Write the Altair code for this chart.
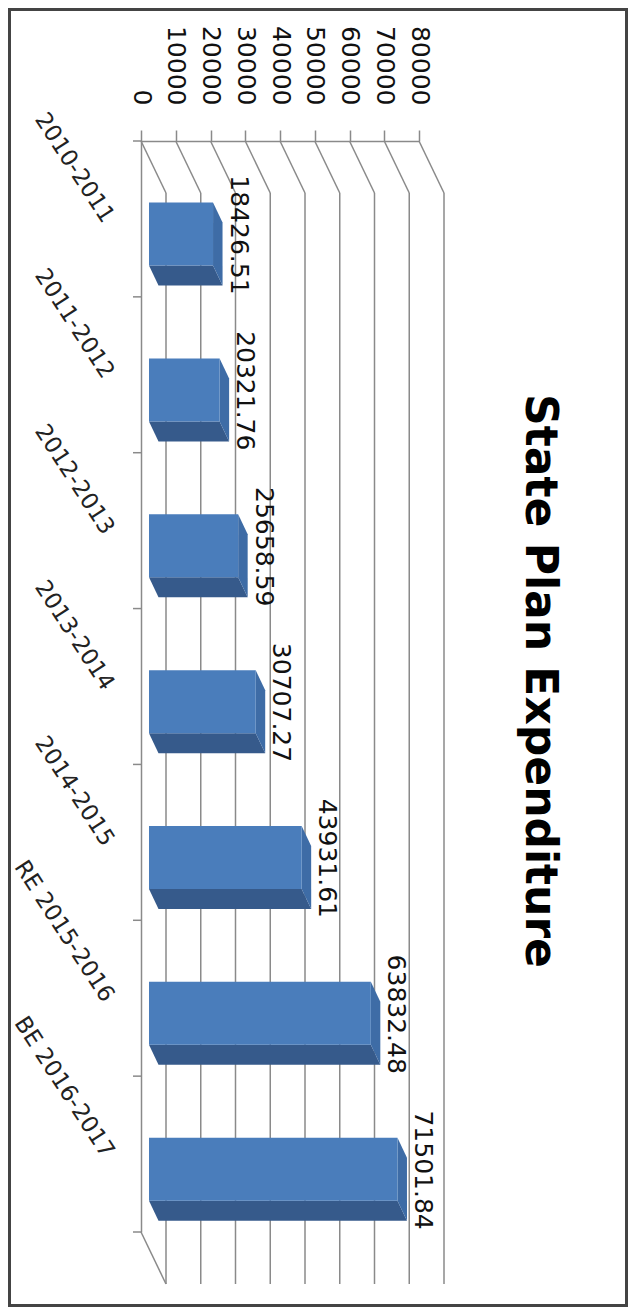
import json
import altair as alt
import pandas as pd

title_text = "State Plan Expenditure"
categories = ["2010-2011", "2011-2012", "2012-2013", "2013-2014", "2014-2015", "RE 2015-2016", "BE 2016-2017"]
values = [18426.51, 20321.76, 25658.59, 30707.27, 43931.61, 63832.48, 71501.84]
value_ticks = [0, 10000, 20000, 30000, 40000, 50000, 60000, 70000, 80000]
n = len(categories)

# pixel geometry of the oblique projection
W, H = 278, 1091
px_x = 80000 / W        # value units per px
px_y = n / H            # band units per px
wall_dx, wall_dy = 25 * px_x, 52 * px_y
bar_x0, bar_dx = 8 * px_x, 9.5 * px_x
bar_dy = 20 * px_y
bar_gap_start = 0.395   # front face offset from band start
bar_thick = 63 * px_y

xs = alt.Scale(domain=[0, 80000], nice=False, zero=False)
ys = alt.Scale(domain=[0, n], nice=False, zero=False, reverse=True)
GREY = "#8a8a8a"
INK = "#111111"
FONT = "DejaVu Sans"

x_axis = alt.Axis(orient="top", values=value_ticks, grid=False, title=None, format="d",
                  domainColor=GREY, domainWidth=1.5, tickColor=GREY, tickWidth=1.5, tickSize=11,
                  labelAngle=90, labelAlign="right", labelBaseline="middle", labelPadding=25,
                  labelFont=FONT, labelFontSize=25, labelColor=INK, labelOverlap=False,
                  labelFlush=False, labelBound=False)
label_expr = "%s[round(datum.value - 0.5)]" % json.dumps(categories)
y_axis = alt.Axis(orient="left", values=[i + 0.5 for i in range(n)], grid=False, title=None,
                  domainColor=GREY, domainWidth=1.5, ticks=False, labelExpr=label_expr,
                  labelAngle=57, labelAlign="right", labelBaseline="middle", labelPadding=33,
                  labelOffset=1,
                  labelFont=FONT, labelFontSize=23, labelColor="#222222", labelOverlap=False,
                  labelLimit=400, labelFlush=False, labelBound=False)


def X(f):
    return alt.X(f, type="quantitative", scale=xs, axis=x_axis)


def Y(f):
    return alt.Y(f, type="quantitative", scale=ys, axis=y_axis)


# frame
frame = alt.Chart(pd.DataFrame({"a": [0]})).mark_rect(
    filled=False, stroke="#444444", strokeWidth=3
).encode(x=alt.value(-131.5), x2=alt.value(485.5), y=alt.value(-131.5), y2=alt.value(1164.5))

# back wall and slanted grid
wall = pd.DataFrame({"v": value_ticks})
wall["vb"] = wall.v + wall_dx
wall["y0"] = 0.0
wall["y1"] = wall_dy
wall["y2b"] = n + wall_dy
slants = alt.Chart(wall).mark_rule(color=GREY, strokeWidth=1.5).encode(
    x=X("v"), x2="vb", y=Y("y0"), y2="y1")
back = alt.Chart(wall).mark_rule(color=GREY, strokeWidth=1.5).encode(
    x=X("vb"), y=Y("y1"), y2="y2b")
floor = alt.Chart(pd.DataFrame({"v": [0.0], "vb": [wall_dx], "y0": [float(n)], "y1": [n + wall_dy]})).mark_rule(
    color=GREY, strokeWidth=1.5).encode(x=X("v"), x2="vb", y=Y("y0"), y2="y1")

# category ticks
cat_ticks = pd.DataFrame({"y": [float(i) for i in range(n + 1)], "a": [-8 * px_x] * (n + 1), "b": [0.0] * (n + 1)})
ticks = alt.Chart(cat_ticks).mark_rule(color=GREY, strokeWidth=1.5).encode(x=X("a"), x2="b", y=Y("y"))

# bars
front_rows, bottom_rows, right_rows, label_rows = [], [], [], []
for i, (c, v) in enumerate(zip(categories, values)):
    top = i + bar_gap_start
    bot = top + bar_thick
    l, r = bar_x0, bar_x0 + v
    front_rows.append({"c": c, "l": l, "r": r, "t": top, "b": bot})
    bottom_rows += [{"c": c, "y": bot, "l": l, "r": r},
                    {"c": c, "y": bot + bar_dy, "l": l + bar_dx, "r": r + bar_dx}]
    right_rows += [{"c": c, "x": r, "t": top, "b": bot},
                   {"c": c, "x": r + bar_dx, "t": top + bar_dy, "b": bot + bar_dy}]
    label_rows.append({"text": f"{v:.2f}", "x": r + bar_dx + 16 * px_x, "y": i + 0.5 + 16 * px_y})

front = alt.Chart(pd.DataFrame(front_rows)).mark_rect(color="#4a7dbb").encode(
    x=X("l"), x2="r", y=Y("t"), y2="b")
bottom = alt.Chart(pd.DataFrame(bottom_rows)).mark_area(orient="horizontal", color="#365a8b").encode(
    y=Y("y"), x=X("l"), x2="r", detail="c:N")
right = alt.Chart(pd.DataFrame(right_rows)).mark_area(orient="vertical", color="#3e6ca6").encode(
    x=X("x"), y=Y("t"), y2="b", detail="c:N")
labels = alt.Chart(pd.DataFrame(label_rows)).mark_text(
    angle=90, align="center", baseline="middle", font=FONT, fontSize=25, color=INK
).encode(x=X("x"), y=Y("y"), text="text:N")

title = alt.Chart(pd.DataFrame({"t": [title_text]})).mark_text(
    angle=90, align="center", baseline="middle", font=FONT, fontWeight="bold", fontSize=44, color="#000000"
).encode(x=alt.value(398), y=alt.value(540), text="t:N")

chart = alt.layer(frame, slants, back, floor, ticks, bottom, right, front, labels, title).properties(
    width=W, height=H,
    autosize=alt.AutoSizeParams(type="none"),
    padding={"left": 133, "top": 133, "right": 209, "bottom": 75},
    background="white",
).configure_view(stroke=None)

chart.save("out.html", embed_options={"renderer": "svg", "actions": False})
